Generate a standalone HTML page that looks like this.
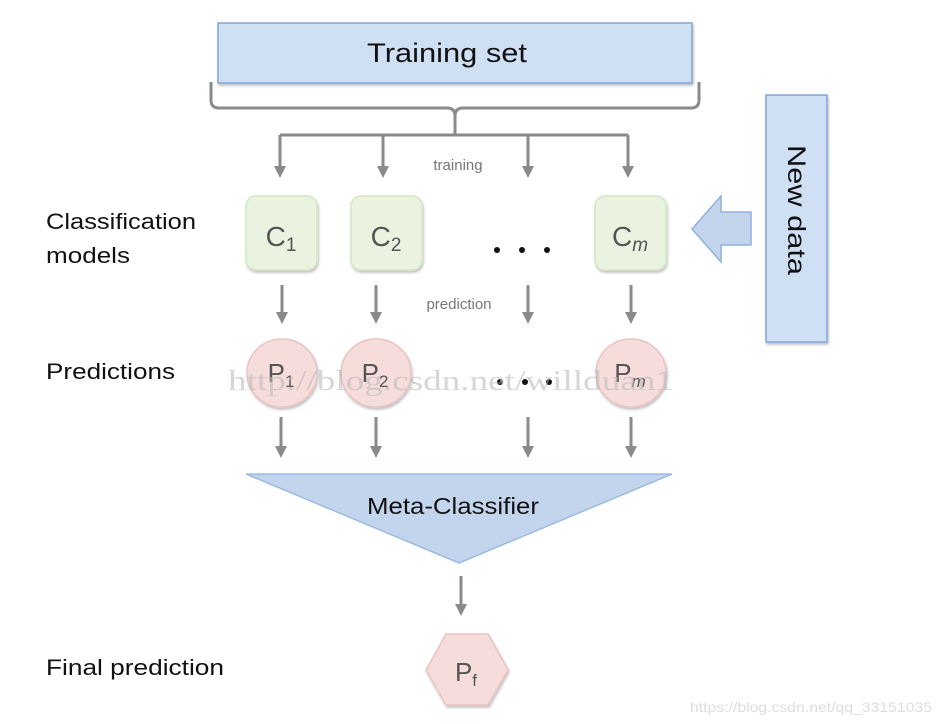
<!DOCTYPE html>
<html><head><meta charset="utf-8"><style>
html,body{margin:0;padding:0;background:#fff;}
svg{display:block;font-family:"Liberation Sans",sans-serif;}
</style></head><body>
<svg width="942" height="724" viewBox="0 0 942 724" xmlns="http://www.w3.org/2000/svg">
<defs>
<marker id="ah" markerWidth="4" markerHeight="4" refX="2" refY="2" orient="auto" markerUnits="strokeWidth">
<path d="M0,0 L4,2 L0,4 z" fill="#8a8a8a"/></marker>
<filter id="sh" x="-10%" y="-10%" width="130%" height="130%"><feDropShadow dx="1" dy="2" stdDeviation="1.2" flood-color="#000" flood-opacity="0.25"/></filter>
</defs>
<!-- Training set -->
<rect x="218" y="23" width="474" height="60" fill="#cfe0f5" stroke="#7fa6d6" stroke-width="1.5" filter="url(#sh)"/>
<text x="447" y="62" font-size="27" text-anchor="middle" fill="#111" textLength="160" lengthAdjust="spacingAndGlyphs">Training set</text>
<!-- brace -->
<path d="M211,82 V100 Q211,108 219,108 H447 Q455,108 455,116 V135 M455,116 Q455,108 463,108 H691 Q699,108 699,100 V82" fill="none" stroke="#8a8a8a" stroke-width="3"/>
<path d="M280,135 H628" stroke="#8a8a8a" stroke-width="3"/>
<g stroke="#8a8a8a" stroke-width="3" fill="none" marker-end="url(#ah)">
<path d="M280,135 V172"/><path d="M383,135 V172"/><path d="M528,135 V172"/><path d="M628,135 V172"/>
</g>
<text x="458" y="170" font-size="15" text-anchor="middle" fill="#777">training</text>
<!-- C boxes -->
<g fill="#e9f3df" stroke="#d5e6c5" stroke-width="1.5" filter="url(#sh)">
<rect x="246" y="196" width="71" height="74" rx="10"/>
<rect x="351" y="196" width="71" height="74" rx="10"/>
<rect x="595" y="196" width="71" height="74" rx="10"/>
</g>
<g font-size="28" fill="#555" text-anchor="middle">
<text x="281" y="246">C<tspan font-size="19" dy="5">1</tspan></text>
<text x="386" y="246">C<tspan font-size="19" dy="5">2</tspan></text>
<text x="630" y="246">C<tspan font-size="19" dy="5" font-style="italic">m</tspan></text>
</g>
<g fill="#111"><circle cx="497" cy="250" r="3"/><circle cx="522" cy="250" r="3"/><circle cx="547" cy="250" r="3"/></g>
<!-- arrows C->P -->
<g stroke="#8a8a8a" stroke-width="3" fill="none" marker-end="url(#ah)">
<path d="M282,285 V318"/><path d="M376,285 V318"/><path d="M528,285 V318"/><path d="M631,285 V318"/>
</g>
<text x="459" y="309" font-size="15" text-anchor="middle" fill="#777">prediction</text>
<!-- P circles -->
<g fill="#f7dcdc" stroke="#eac3c3" stroke-width="1.5" filter="url(#sh)">
<ellipse cx="282" cy="373" rx="35" ry="34"/>
<ellipse cx="376" cy="373" rx="35" ry="34"/>
<ellipse cx="631" cy="373" rx="35" ry="34"/>
</g>
<g font-size="26" fill="#555" text-anchor="middle">
<text x="281" y="382">P<tspan font-size="17" dy="5">1</tspan></text>
<text x="375" y="382">P<tspan font-size="17" dy="5">2</tspan></text>
<text x="630" y="382">P<tspan font-size="17" dy="5" font-style="italic">m</tspan></text>
</g>
<g fill="#111"><circle cx="500" cy="382" r="3"/><circle cx="525" cy="382" r="3"/><circle cx="549" cy="382" r="3"/></g>
<text x="228" y="390" font-family="Liberation Serif,serif" font-size="28" fill="#bbb" fill-opacity="0.6" textLength="446" lengthAdjust="spacingAndGlyphs">http://blog.csdn.net/willduan1</text>
<!-- arrows P->meta -->
<g stroke="#8a8a8a" stroke-width="3" fill="none" marker-end="url(#ah)">
<path d="M281,417 V452"/><path d="M376,417 V452"/><path d="M528,417 V452"/><path d="M631,417 V452"/>
</g>
<!-- meta triangle -->
<polygon points="246,474 672,474 459,563" fill="#c2d5ec" stroke="#9dbbe0" stroke-width="1.5"/>
<text x="453" y="514" font-size="23" text-anchor="middle" fill="#111" textLength="172" lengthAdjust="spacingAndGlyphs">Meta-Classifier</text>
<path d="M461,576 V610" stroke="#8a8a8a" stroke-width="3" fill="none" marker-end="url(#ah)"/>
<!-- hexagon -->
<polygon points="446,634 488,634 508,670 488,705 446,705 426,670" fill="#f7dcdc" stroke="#eac3c3" stroke-width="1.5" filter="url(#sh)"/>
<text x="466" y="681" font-size="26" fill="#555" text-anchor="middle">P<tspan font-size="17" dy="5">f</tspan></text>
<!-- New data -->
<rect x="766" y="95" width="61" height="247" fill="#cfe0f5" stroke="#7fa6d6" stroke-width="1.5" filter="url(#sh)"/>
<text transform="translate(788,210) rotate(90)" font-size="25" text-anchor="middle" fill="#111" textLength="130" lengthAdjust="spacingAndGlyphs">New data</text>
<polygon points="692,229 721,196 721,212 751,212 751,245 721,245 721,262" fill="#c2d5ec" stroke="#8fb1dc" stroke-width="1.5"/>
<!-- left labels -->
<g font-size="22" fill="#111">
<text x="46" y="229" textLength="150" lengthAdjust="spacingAndGlyphs">Classification</text>
<text x="46" y="263" textLength="84" lengthAdjust="spacingAndGlyphs">models</text>
<text x="46" y="379" textLength="129" lengthAdjust="spacingAndGlyphs">Predictions</text>
<text x="46" y="675" textLength="178" lengthAdjust="spacingAndGlyphs">Final prediction</text>
</g>
<text x="690" y="712" font-size="14" fill="#ddd" textLength="242" lengthAdjust="spacingAndGlyphs">https://blog.csdn.net/qq_33151035</text>
</svg>
</body></html>
